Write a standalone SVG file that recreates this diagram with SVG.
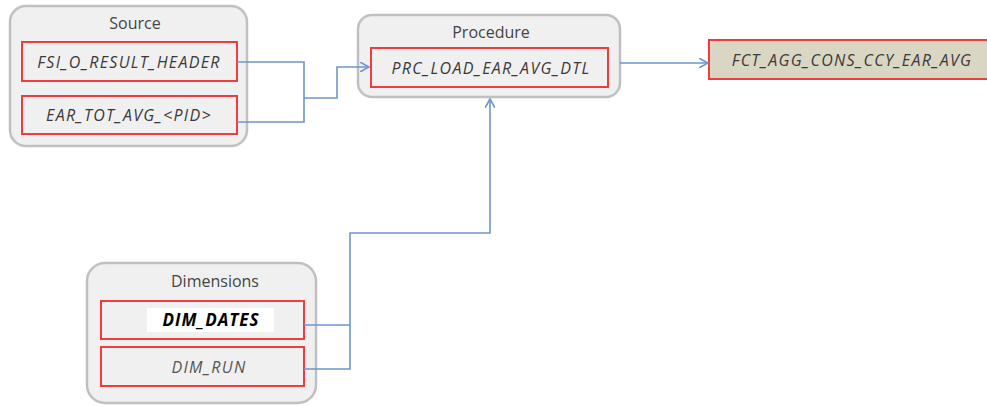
<svg xmlns="http://www.w3.org/2000/svg" width="987" height="406" viewBox="0 0 987 406">
<defs>
<style>
.grp{fill:#f0f0f0;stroke:#c0c0c0;stroke-width:2.5}
.box{fill:#f0f0f0;stroke:#f03c3c;stroke-width:2}
.title{font-family:"Open Sans","DejaVu Sans",sans-serif;font-size:16px;fill:#444;text-anchor:middle}
.lbl{font-family:"Open Sans","DejaVu Sans",sans-serif;font-size:16px;font-style:italic;letter-spacing:1.3px;fill:#3a3a3a;text-anchor:middle}
.conn{fill:none;stroke:#6f95cc;stroke-width:1.6}
</style>
<marker id="arr" viewBox="0 0 10 10" refX="9" refY="5" markerWidth="10" markerHeight="10" markerUnits="userSpaceOnUse" orient="auto">
<path d="M0,0 L9,5 L0,10" fill="none" stroke="#6f95cc" stroke-width="1.6"/>
</marker>
</defs>
<rect width="987" height="406" fill="#fff"/>
<g id="source">
<rect class="grp" x="10" y="6" width="237" height="140" rx="16"/>
<text class="title" x="135" y="29">Source</text>
<g id="fsi_o_result_header">
<rect class="box" x="22" y="42" width="215" height="39"/>
<text class="lbl" x="129" y="68">FSI_O_RESULT_HEADER</text>
</g>
<g id="ear_tot_avg">
<rect class="box" x="22" y="96" width="215" height="38"/>
<text class="lbl" x="129" y="121">EAR_TOT_AVG_&lt;PID&gt;</text>
</g>
</g>
<g id="procedure">
<rect class="grp" x="358" y="15" width="262" height="82" rx="14"/>
<text class="title" x="491" y="38">Procedure</text>
<g id="prc_load_ear_avg_dtl">
<rect class="box" x="371" y="48" width="237" height="39"/>
<text class="lbl" x="491" y="74">PRC_LOAD_EAR_AVG_DTL</text>
</g>
</g>
<g id="fct_agg_cons_ccy_ear_avg">
<rect x="709" y="40" width="290" height="39" fill="#d9d6c3" stroke="#f03c3c" stroke-width="2"/>
<text class="lbl" x="852" y="66" fill="#333">FCT_AGG_CONS_CCY_EAR_AVG</text>
</g>
<g id="dimensions">
<rect class="grp" x="87" y="263" width="229" height="140" rx="18"/>
<text class="title" x="215" y="287">Dimensions</text>
<g id="dim_dates">
<rect class="box" x="101" y="301" width="203" height="38"/>
<rect x="147" y="308" width="127" height="24" fill="#fff"/>
<text class="lbl" x="211" y="326" style="fill:#000;font-weight:bold;font-size:17px;letter-spacing:1px">DIM_DATES</text>
</g>
<g id="dim_run">
<rect class="box" x="101" y="347" width="203" height="39"/>
<text class="lbl" x="209" y="373" style="fill:#555">DIM_RUN</text>
</g>
</g>
<g id="connectors">
<path class="conn" d="M237,62 H304 V122 H237"/>
<path class="conn" d="M304,98 H337 V67 H369" marker-end="url(#arr)"/>
<path class="conn" d="M620,63 H708" marker-end="url(#arr)"/>
<path class="conn" d="M304,325 H350 M304,369 H350 V233 H490 V99" marker-end="url(#arr)"/>
</g>
</svg>
